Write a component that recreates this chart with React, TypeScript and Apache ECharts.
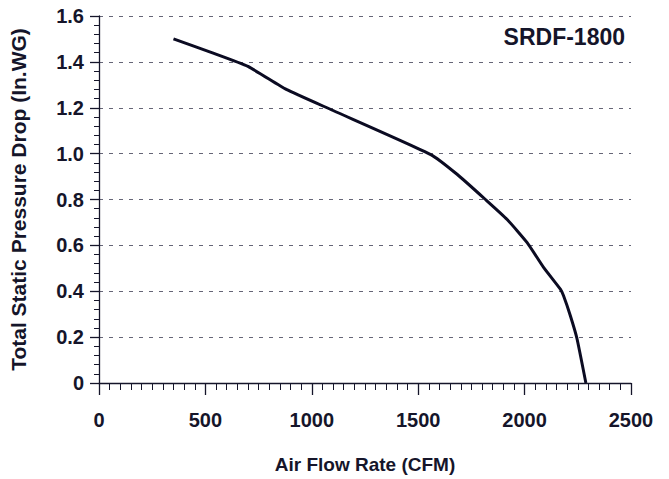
import React, { useEffect, useRef } from "react";
import * as echarts from "echarts";

const flowCFM = [350, 530, 700, 880, 1100, 1559, 1684, 1816, 1918, 2012, 2090, 2168, 2183, 2215, 2246, 2288];
const pressureInWG = [1.5, 1.44, 1.38, 1.28, 1.188, 0.996, 0.909, 0.8, 0.713, 0.612, 0.503, 0.409, 0.38, 0.293, 0.194, 0];
const modelName = "SRDF-1800";
const xAxisTitle = "Air Flow Rate (CFM)";
const yAxisTitle = "Total Static Pressure Drop (In.WG)";

const TEXT = "#15152a";
const FONT = "Liberation Sans, Arial, sans-serif";

export default function App() {
  const ref = useRef<HTMLDivElement>(null);
  useEffect(() => {
    const chart = echarts.init(ref.current!, undefined, { renderer: "svg" });
    chart.setOption({
      animation: false,
      backgroundColor: "#ffffff",
      title: {
        text: modelName,
        right: 39,
        top: 20,
        textStyle: { fontFamily: FONT, fontSize: 23, fontWeight: "bold", color: TEXT },
      },
      grid: { left: 97, right: 38, top: 16, bottom: 95, containLabel: false },
      xAxis: {
        type: "value",
        min: 0,
        max: 2500,
        interval: 500,
        name: xAxisTitle,
        nameLocation: "middle",
        nameGap: 72,
        nameTextStyle: { fontFamily: FONT, fontSize: 19, fontWeight: "bold", color: TEXT },
        axisLine: { show: true, lineStyle: { color: TEXT, width: 1.3 } },
        axisTick: { show: true, length: 12, lineStyle: { color: TEXT, width: 1.3 } },
        minorTick: { show: true, splitNumber: 10, length: 7, lineStyle: { color: TEXT, width: 1 } },
        axisLabel: {
          margin: 27,
          fontFamily: FONT,
          fontSize: 20,
          fontWeight: "bold",
          color: TEXT,
          formatter: (v: number) => String(v),
        },
        splitLine: { show: false },
      },
      yAxis: {
        type: "value",
        min: 0,
        max: 1.6,
        interval: 0.2,
        name: yAxisTitle,
        nameLocation: "middle",
        nameGap: 70,
        nameRotate: 90,
        nameTextStyle: { fontFamily: FONT, fontSize: 21, fontWeight: "bold", color: TEXT },
        axisLine: { show: true, lineStyle: { color: TEXT, width: 1.3 } },
        axisTick: { show: true, length: 9, lineStyle: { color: TEXT, width: 1.3 } },
        minorTick: { show: true, splitNumber: 5, length: 5, lineStyle: { color: TEXT, width: 1 } },
        axisLabel: {
          margin: 15,
          fontFamily: FONT,
          fontSize: 20,
          fontWeight: "bold",
          color: TEXT,
          formatter: (v: number) => (v === 0 ? "0" : v.toFixed(1)),
        },
        splitLine: { show: true, lineStyle: { color: "#666677", type: [4, 6], width: 1 } },
      },
      series: [
        {
          type: "line",
          data: flowCFM.map((x, i) => [x, pressureInWG[i]]),
          showSymbol: false,
          smooth: 0.15,
          lineStyle: { color: "#0b0b22", width: 3 },
        },
      ],
    });
    return () => chart.dispose();
  }, []);
  return <div ref={ref} style={{ width: 669, height: 479, position: "absolute", left: 0, top: 0 }} />;
}
